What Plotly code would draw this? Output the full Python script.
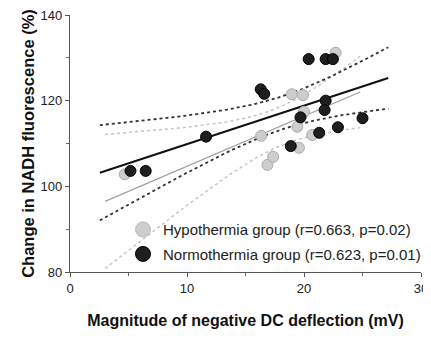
import numpy as np
import plotly.graph_objects as go

# --- data ---
hypo_x = [4.68, 16.34, 16.88, 17.36, 18.95, 19.91, 20.0, 19.43, 19.57, 20.7, 22.7]
hypo_y = [102.8, 111.8, 105.0, 106.9, 121.5, 121.3, 117.4, 113.9, 109.0, 112.0, 131.2]
normo_x = [5.17, 6.47, 11.63, 16.3, 16.6, 18.87, 19.7, 20.4, 21.3, 21.85, 22.47, 21.85, 21.76, 22.9, 25.0]
normo_y = [103.6, 103.6, 111.6, 122.65, 121.6, 109.4, 116.1, 129.7, 112.5, 129.7, 129.7, 120.0, 117.8, 113.8, 115.9]
hypo_label = "Hypothermia group (r=0.663, p=0.02)"
normo_label = "Normothermia group (r=0.623, p=0.01)"
hypo_fit_range = [3.0, 24.8]
normo_fit_range = [2.55, 27.2]
t_crit = {9: 2.262, 13: 2.160}
x_ticks = [0, 10, 20, 30]
y_ticks = [80, 100, 120, 140]


def fit(xs, ys, xr):
    x = np.array(xs); y = np.array(ys); n = len(x)
    b, a = np.polyfit(x, y, 1)
    res = y - (a + b * x)
    s = np.sqrt(np.sum(res ** 2) / (n - 2))
    sxx = np.sum((x - x.mean()) ** 2)
    gx = np.linspace(xr[0], xr[1], 60)
    yh = a + b * gx
    half = t_crit[n - 2] * s * np.sqrt(1 / n + (gx - x.mean()) ** 2 / sxx)
    return gx, yh, yh - half, yh + half


fig = go.Figure()

hx, hy, hlo, hhi = fit(hypo_x, hypo_y, hypo_fit_range)
nx, ny, nlo, nhi = fit(normo_x, normo_y, normo_fit_range)

light = "#cdcdcd"
dark = "#1e1e1e"
FONT = "Liberation Sans, Arial"

for band in (hlo, hhi):
    fig.add_trace(go.Scatter(x=hx, y=band, mode="lines", showlegend=False, hoverinfo="skip",
                             line=dict(color="#c4c4c4", width=1.5, dash="dot")))
fig.add_trace(go.Scatter(x=hx, y=hy, mode="lines", showlegend=False, hoverinfo="skip",
                         line=dict(color="#a0a0a0", width=1.3)))
for band in (nlo, nhi):
    fig.add_trace(go.Scatter(x=nx, y=band, mode="lines", showlegend=False, hoverinfo="skip",
                             line=dict(color="#333333", width=1.8, dash="dot")))
fig.add_trace(go.Scatter(x=nx, y=ny, mode="lines", showlegend=False, hoverinfo="skip",
                         line=dict(color="#111111", width=2)))

fig.add_trace(go.Scatter(x=hypo_x, y=hypo_y, mode="markers", showlegend=False,
                         marker=dict(size=11, color=light, line=dict(color="#aaaaaa", width=1))))
fig.add_trace(go.Scatter(x=normo_x, y=normo_y, mode="markers", showlegend=False,
                         marker=dict(size=11, color=dark, line=dict(color="#000000", width=1))))

# legend entries
fig.add_trace(go.Scatter(x=[None], y=[None], mode="markers", name=hypo_label, legendgroup="h",
                         marker=dict(size=15, color=light, line=dict(color="#bbbbbb", width=1))))
fig.add_trace(go.Scatter(x=[None], y=[None], mode="markers", name=normo_label, legendgroup="n",
                         marker=dict(size=15, color=dark, line=dict(color="#000000", width=1))))

axis_common = dict(showline=True, linecolor="#555555", linewidth=1.2, ticks="outside",
                   tickcolor="#555555", ticklen=4, showgrid=False, zeroline=False,
                   automargin=False, ticklabeloverflow="allow",
                   tickfont=dict(family=FONT, size=13, color="#222222"),
                   minor=dict(ticks="outside", ticklen=3, tickcolor="#666666"))

# page body has an 8px default margin: shift margins so the plot area lands where the reference has it
fig.update_layout(
    width=431, height=330,
    margin=dict(l=62, r=18, t=7, b=66),
    paper_bgcolor="white", plot_bgcolor="white",
    xaxis=dict(range=[0, 30], tickvals=x_ticks, **axis_common,
               title=dict(text="<b>Magnitude of negative DC deflection (mV)</b>",
                          font=dict(family=FONT, size=16, color="#111111"),
                          standoff=20)),
    yaxis=dict(range=[80, 140], tickvals=y_ticks, **axis_common,
               title=dict(text="<b>Change in NADH fluorescence (%)</b>",
                          font=dict(family=FONT, size=16.5, color="#111111"),
                          standoff=1)),
    legend=dict(x=0.151, y=0.229, xanchor="left", yanchor="top", bgcolor="rgba(0,0,0,0)",
                font=dict(family=FONT, size=15, color="#222222"),
                tracegroupgap=2, itemsizing="trace"),
    showlegend=True,
)
fig.update_xaxes(minor_tickvals=[5, 15, 25])
fig.update_yaxes(minor_tickvals=[90, 110, 130])

fig.write_html("out.html")
